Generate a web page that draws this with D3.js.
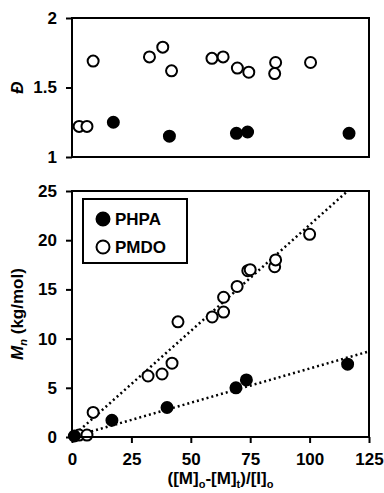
<!DOCTYPE html>
<html>
<head>
<meta charset="utf-8">
<script src="https://cdn.jsdelivr.net/npm/d3@7"></script>
<style>
  body { margin: 0; background: #fff; }
  svg text { font-family: "Liberation Sans", Arial, sans-serif; font-weight: bold; }
</style>
</head>
<body>
<svg id="chart" width="384" height="493"></svg>
<script>
// dispersity panel (top)
const phpaDispX = [17.4, 41, 69.2, 73.9, 116.6];
const phpaDisp = [1.25, 1.15, 1.17, 1.18, 1.17];
const pmdoDispX = [3, 6.3, 8.9, 32.6, 38.2, 41.9, 58.9, 63.6, 69.6, 74.4, 85.7, 85.3, 100.4];
const pmdoDisp = [1.22, 1.22, 1.69, 1.72, 1.79, 1.62, 1.71, 1.72, 1.64, 1.61, 1.68, 1.60, 1.68];

// Mn panel (bottom)
const phpaMnX = [1, 16.8, 40, 69, 73.4, 116];
const phpaMn = [0.1, 1.7, 3.0, 5.0, 5.8, 7.4];
const pmdoMnX = [3, 6.3, 8.9, 32, 37.9, 42.1, 44.6, 59, 63.8, 63.8, 69.5, 74, 75, 85.3, 85.7, 100];
const pmdoMn = [0.2, 0.2, 2.5, 6.2, 6.4, 7.5, 11.7, 12.2, 12.7, 14.2, 15.3, 16.9, 17.0, 17.3, 18.0, 20.6];

// linear fits through origin
const phpaSlope = 0.0696;
const pmdoSlope = 0.2155;

const xTicks = [0, 25, 50, 75, 100, 125];
const dispTicks = [1, 1.5, 2];
const mnTicks = [0, 5, 10, 15, 20, 25];

const svg = d3.select('#chart');
const left = 72, right = 369;
const fs = '17px';

const x = d3.scaleLinear().domain([0, 125]).range([left, right]);
const yD = d3.scaleLinear().domain([1, 2]).range([157, 18]);
const yM = d3.scaleLinear().domain([0, 25]).range([437, 191]);

const r = 5.5;

function frame(y) {
  const [y0, y1] = y.range();
  svg.append('rect')
    .attr('x', left).attr('y', y1)
    .attr('width', right - left).attr('height', y0 - y1)
    .attr('fill', 'none').attr('stroke', '#000').attr('stroke-width', 2);
}

function yAxis(y, ticks, fmt) {
  const g = svg.append('g')
    .attr('transform', `translate(${left},0)`)
    .call(d3.axisLeft(y).tickValues(ticks).tickFormat(fmt).tickSize(6).tickPadding(9));
  g.select('.domain').remove();
  g.selectAll('line').attr('stroke', '#000').attr('stroke-width', 2);
  g.selectAll('text').attr('fill', '#000').style('font-size', fs);
}

function dots(xs, ys, y, filled) {
  svg.append('g').selectAll('circle').data(xs)
    .join('circle')
    .attr('cx', d => x(d))
    .attr('cy', (d, i) => y(ys[i]))
    .attr('r', r)
    .attr('fill', filled ? '#000' : '#fff')
    .attr('stroke', '#000')
    .attr('stroke-width', 2);
}

// top panel
frame(yD);
yAxis(yD, dispTicks, d3.format('~g'));
dots(pmdoDispX, pmdoDisp, yD, false);
dots(phpaDispX, phpaDisp, yD, true);

svg.append('text')
  .attr('transform', `translate(23,${yD(1.5)}) rotate(-90)`)
  .attr('text-anchor', 'middle')
  .style('font-size', fs).style('font-style', 'italic')
  .text('Đ');

// bottom panel
svg.append('clipPath').attr('id', 'clip')
  .append('rect').attr('x', left).attr('y', 191).attr('width', right - left).attr('height', 246);

const fit = svg.append('g').attr('clip-path', 'url(#clip)');
[phpaSlope, pmdoSlope].forEach(s => {
  fit.append('line')
    .attr('x1', x(0)).attr('y1', yM(0))
    .attr('x2', x(125)).attr('y2', yM(125 * s))
    .attr('stroke', '#000').attr('stroke-width', 2.5)
    .attr('stroke-dasharray', '2,3');
});

dots(pmdoMnX, pmdoMn, yM, false);
dots(phpaMnX, phpaMn, yM, true);
frame(yM);
yAxis(yM, mnTicks, d3.format('d'));

const gx = svg.append('g')
  .attr('transform', `translate(0,${yM(0)})`)
  .call(d3.axisBottom(x).tickValues(xTicks).tickSize(6).tickPadding(10));
gx.select('.domain').remove();
gx.selectAll('line').attr('stroke', '#000').attr('stroke-width', 2);
gx.selectAll('text').attr('fill', '#000').style('font-size', fs);

// y label Mn
const yl = svg.append('text')
  .attr('transform', `translate(23,${yM(12.5)}) rotate(-90)`)
  .attr('text-anchor', 'middle')
  .style('font-size', fs);
yl.append('tspan').style('font-style', 'italic').text('M');
yl.append('tspan').style('font-style', 'italic').style('font-size', '11px').attr('dy', 4).text('n');
yl.append('tspan').attr('dy', -4).text(' (kg/mol)');

// x label
const xl = svg.append('text')
  .attr('x', (left + right) / 2).attr('y', 484)
  .attr('text-anchor', 'middle')
  .style('font-size', fs);
[['([M]', 0], ['o', 1], ['-[M]', 0], ['t', 1], [')/[I]', 0], ['o', 1]].forEach(([t, sub], i, a) => {
  const prev = i > 0 ? a[i - 1][1] : 0;
  xl.append('tspan')
    .attr('dy', (sub - prev) * 4)
    .style('font-size', sub ? '11px' : fs)
    .text(t);
});

// legend
svg.append('rect')
  .attr('x', 83).attr('y', 199).attr('width', 104).attr('height', 64)
  .attr('fill', '#fff').attr('stroke', '#000').attr('stroke-width', 2);
const legend = [['PHPA', true], ['PMDO', false]];
legend.forEach(([name, filled], i) => {
  const ly = 219 + i * 28;
  svg.append('circle')
    .attr('cx', 103).attr('cy', ly).attr('r', 6.5)
    .attr('fill', filled ? '#000' : '#fff')
    .attr('stroke', '#000').attr('stroke-width', 2);
  svg.append('text')
    .attr('x', 115).attr('y', ly).attr('dy', '0.36em')
    .style('font-size', fs)
    .text(name);
});
</script>
</body>
</html>
